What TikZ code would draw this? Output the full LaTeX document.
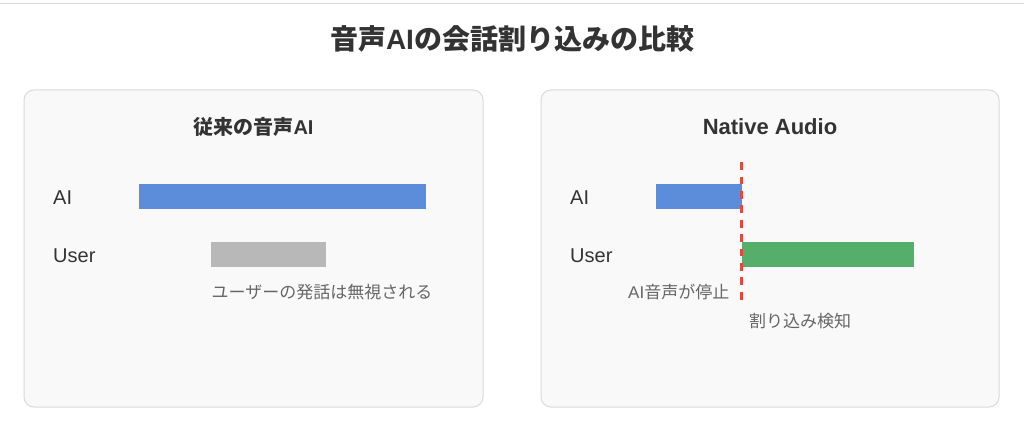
\documentclass[tikz,border=0pt]{standalone}
\usepackage{fontspec}
\setmainfont{Noto Sans CJK JP}
\newfontfamily\lat{Liberation Sans}
\definecolor{panelfill}{HTML}{F9F9F9}
\definecolor{panelline}{HTML}{DADADA}
\definecolor{aiblue}{HTML}{5B8DDB}
\definecolor{usergray}{HTML}{B8B8B8}
\definecolor{usergreen}{HTML}{55AE6A}
\definecolor{cutred}{HTML}{DB4B3F}
\definecolor{darktext}{HTML}{333333}
\definecolor{softtext}{HTML}{666666}
\begin{document}
\begin{tikzpicture}[x=1pt,y=-1pt,
  panel/.style={draw=panelline, fill=panelfill, line width=1pt, rounded corners=10pt, inner sep=0pt},
  maintitle/.style={text=darktext, inner sep=0pt, font=\fontsize{28}{34}\selectfont\bfseries},
  paneltitle/.style={text=darktext, inner sep=0pt, font=\fontsize{20}{24}\selectfont\bfseries},
  rowlabel/.style={text=darktext, inner sep=0pt, anchor=west, font=\lat\fontsize{20}{24}\selectfont},
  note/.style={text=softtext, inner sep=0pt, font=\fontsize{17}{20}\selectfont},
  bar/.style={draw=none, inner sep=0pt, anchor=north west, minimum height=25pt}
]
\useasboundingbox[fill=white] (0,0) rectangle (1024,435);
\coordinate (topl) at (0,3.5);
\coordinate (topr) at (1024,3.5);
\draw[panelline, line width=1pt] (topl) -- (topr);

\node[maintitle] (title) at (512,39) {音声{\lat AI}の会話割り込みの比較};

% left panel
\node[panel, minimum width=459pt, minimum height=317pt] (leftpanel) at (253.5,248.5) {};
\node[paneltitle] (lefttitle) at (253.5,127) {従来の音声{\lat AI}};
\node[rowlabel] (lai) at (53,198) {AI};
\node[rowlabel] (luser) at (53,256) {User};
\node[bar, fill=aiblue, minimum width=287pt] (lbarai) at (139,184) {};
\node[bar, fill=usergray, minimum width=115pt] (lbaruser) at (211,241.5) {};
\node[note, anchor=west] (ignored) at (211.5,292) {ユーザーの発話は無視される};

% right panel
\node[panel, minimum width=458pt, minimum height=317pt] (rightpanel) at (770,248.5) {};
\node[paneltitle, font=\lat\fontsize{22}{26}\selectfont\bfseries] (righttitle) at (770,127) {Native Audio};
\node[rowlabel] (rai) at (570,198) {AI};
\node[rowlabel] (ruser) at (570,256) {User};
\node[bar, fill=aiblue, minimum width=86pt] (rbarai) at (655.5,184) {};
\node[bar, fill=usergreen, minimum width=172pt] (rbaruser) at (741.5,241.5) {};
\coordinate (cuttop) at (741.5,162.3);
\coordinate (cutbot) at (741.5,300);
\draw[cutred, line width=2.7pt, dash pattern=on 7.7pt off 6.7pt] (cuttop) -- (cutbot);
\node[note, anchor=east] (stopped) at (729.5,292) {{\lat AI}音声が停止};
\node[note, anchor=west] (detect) at (749,321) {割り込み検知};
\end{tikzpicture}
\end{document}
